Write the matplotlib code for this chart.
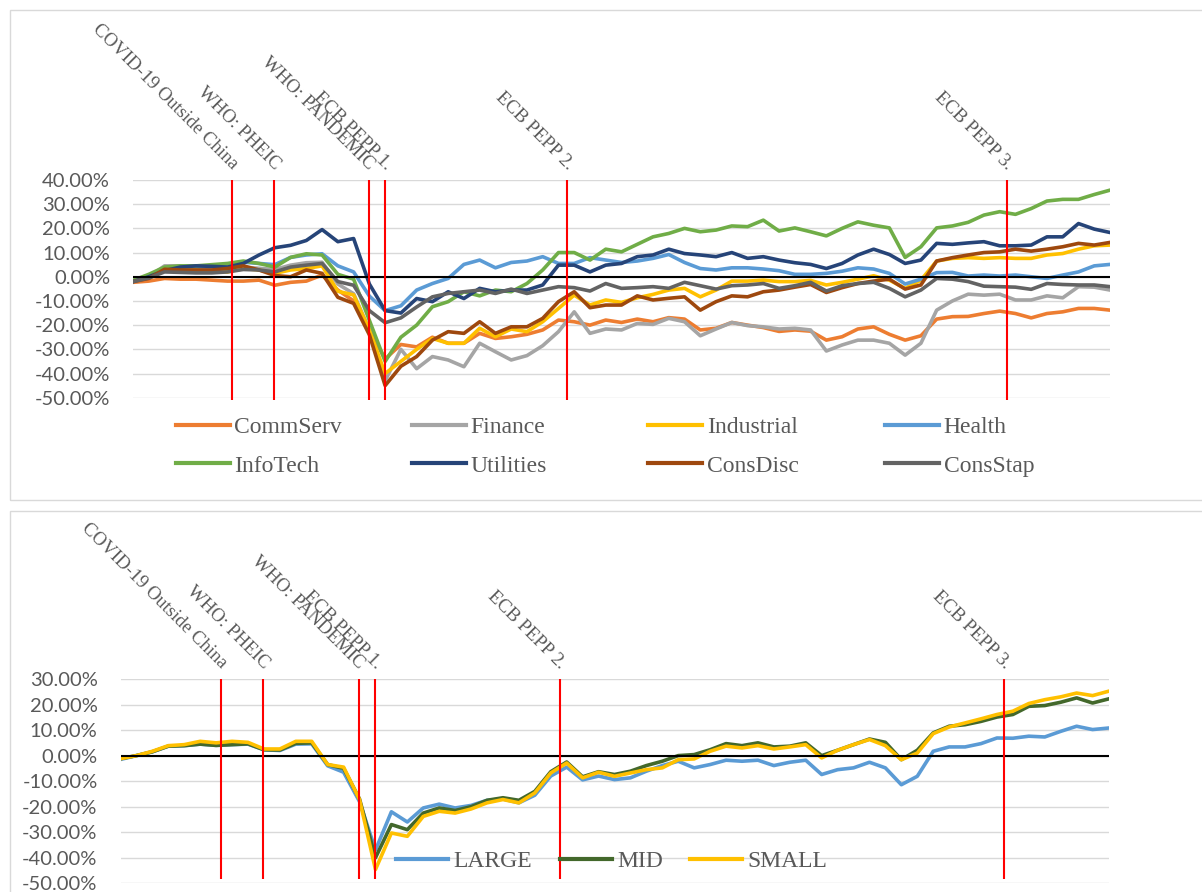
import matplotlib
matplotlib.use('Agg')
import matplotlib.pyplot as plt
from matplotlib.lines import Line2D
from matplotlib.patches import Rectangle
import numpy as np

# Eventos marcados com linhas vermelhas (posicao no eixo de observacoes)
event_names = ['COVID-19 Outside China', 'WHO: PHEIC', 'WHO: PANDEMIC',
               'ECB PEPP 1.', 'ECB PEPP 2.', 'ECB PEPP 3.']
event_pos = [6.3, 8.95, 14.95, 16.0, 27.55, 55.45]

# Retornos acumulados por setor (%), 63 observacoes
comm_serv = [-2.3, -1.8, -0.7, -1, -1, -1.4, -1.8, -1.8, -1.4, -3.5, -2.3, -1.8, 0.7, -5.5, -10, -22, -34, -28, -29,
             -25, -27.5, -27.5, -23.4, -25.5, -24.8, -23.8, -22, -17.9, -18.6, -20, -17.9, -18.9, -17.5, -18.6, -16.9,
             -17.5, -22, -21.3, -18.9, -20, -21, -22.6, -22, -22.5, -26.2, -24.8, -21.6, -20.7, -23.8, -26.2, -24.4,
             -17.5, -16.5, -16.4, -15.2, -14.2, -15.2, -17, -15.2, -14.5, -13.1, -13.1, -13.8]
finance = [-1.8, 0, 4.5, 4.5, 3.5, 3, 3, 4, 3.5, 3, 4.8, 5.8, 6, -3, -7, -22, -43, -30, -38,
           -33, -34.4, -37.2, -27.5, -31, -34.4, -32.6, -28.5, -22.7, -14.5, -23.4, -21.6, -22, -19.3, -19.7, -17.2,
           -18.6, -24.4, -21.6, -18.9, -20.2, -20.7, -21.6, -21.3, -22, -30.7, -28.2, -26.2, -26.2, -27.5, -32.4, -27.5,
           -13.8, -10, -7.2, -7.6, -7.2, -9.6, -9.6, -7.9, -8.7, -4.1, -4.3, -5.5]
industrial = [-1.8, 0, 2.8, 2.8, 2.8, 2, 2, 3.4, 2.8, 1.4, 2.8, 3.4, 4.5, -6, -7.5, -22, -40, -35, -30,
              -25.5, -27.5, -27.5, -21.3, -24.8, -21.6, -22.7, -18.6, -13.1, -7.6, -11.7, -9.6, -10.6, -8.7, -7.3, -5.5,
              -4.8, -8.3, -5.5, -1.8, -1.8, -1.4, -2, -2, -1.5, -3.4, -2.3, -1, 0.4, -1.4, -4.8, -1.4,
              6.5, 7.6, 7.9, 7.6, 7.9, 7.6, 7.6, 9, 9.6, 11.4, 12.8, 13.1]
health = [-2, 0, 2.5, 4, 4.3, 4, 5, 6, 5.5, 5, 8, 9, 9.5, 4.5, 2, -8, -14, -12, -5.5,
          -2.8, -0.7, 5.1, 6.9, 3.7, 5.9, 6.5, 8.3, 5.5, 5.5, 7.9, 6.9, 5.9, 6.5, 7.6, 9.2,
          5.9, 3.4, 2.8, 3.7, 3.7, 3.2, 2.5, 1, 1, 1.4, 2.3, 3.7, 3.2, 1.4, -3, -1,
          1.7, 1.8, 0.3, 0.7, 0.3, 0.7, 0, -0.7, 0.7, 2, 4.5, 5.1]
info_tech = [-1.5, 1, 4, 4.5, 4.5, 5, 5.5, 6.5, 5.5, 4, 8, 9.5, 9, 1, -1, -18, -35, -25, -20,
             -12.4, -10.3, -6.2, -7.9, -5.5, -6.2, -2.8, 2.8, 10, 10, 6.9, 11.4, 10.3, 13.4, 16.5, 17.9,
             20, 18.6, 19.3, 21, 20.7, 23.4, 18.9, 20.2, 18.6, 16.9, 20, 22.7, 21.3, 20.2, 8, 12.4,
             20.2, 21, 22.5, 25.5, 26.9, 25.8, 28.2, 31.3, 32, 32, 34, 35.8]
utilities = [-2, 0, 2.5, 4, 4.5, 4.3, 4, 5.5, 9, 12, 13, 15, 19.5, 14.5, 15.8, -3, -14, -15, -9,
             -10.3, -6.2, -9, -4.8, -6.2, -5.5, -5.5, -3.4, 4.8, 4.8, 2, 4.8, 5.5, 8.3, 9, 11.4,
             9.6, 9, 8.3, 10, 7.6, 8.3, 6.9, 5.8, 5.1, 3.4, 5.5, 9, 11.4, 9.2, 5.5, 6.9,
             13.8, 13.4, 14, 14.5, 12.8, 12.8, 13.1, 16.5, 16.5, 22, 19.7, 18.3]
cons_disc = [-2, -0.7, 3.1, 2.8, 2.8, 2.8, 3.4, 4.5, 2.8, 0.5, 0, 2.8, 1.4, -8.5, -11, -24, -45, -37, -33,
             -26.2, -22.7, -23.4, -18.6, -23.4, -20.7, -20.7, -17.2, -10.3, -6.2, -12.8, -11.7, -11.7, -7.9, -9.6, -8.9,
             -8.3, -13.8, -10.3, -7.9, -8.3, -6.2, -5.5, -4.3, -3.2, -6.5, -4.5, -2.8, -1.8, -1, -5.1, -3.4,
             6.5, 7.9, 9, 10, 10.3, 11.4, 10.6, 11.4, 12.4, 13.8, 13.1, 14.2]
cons_stap = [-2, -0.5, 2, 1.8, 1.6, 1.6, 2, 3, 2.8, 2, 4, 4.8, 5.5, -2, -3.5, -14, -19, -17, -12.5,
             -8.3, -6.9, -6.2, -5.5, -6.9, -5.1, -6.9, -5.5, -4.1, -4.5, -5.9, -2.8, -4.8, -4.5, -4.1, -4.8,
             -2.3, -3.7, -5.1, -3.7, -3.4, -2.8, -4.8, -3.7, -2.3, -5.9, -3.7, -2.8, -2.3, -4.8, -8.3, -5.5,
             -0.7, -1, -2, -3.9, -4.1, -4.3, -5.2, -2.8, -3.2, -3.4, -3.4, -4.1]

# Retornos acumulados por tamanho (%)
large = [-1.5, 0, 1.5, 3.7, 3.9, 4.5, 4, 4.3, 4.5, 2.3, 2, 4.5, 4.6, -4, -6.5, -18, -37, -22, -26,
         -20.5, -19, -20.5, -19.5, -17.5, -17, -18.5, -15.5, -8, -4.5, -9.5, -8, -9.4, -8.7, -6.1, -3.9,
         -2.2, -4.8, -3.5, -1.8, -2.2, -1.8, -3.9, -2.6, -1.8, -7.4, -5.5, -4.8, -2.6, -4.8, -11.4, -8.1,
         1.7, 3.4, 3.4, 4.7, 6.9, 6.8, 7.6, 7.3, 9.5, 11.5, 10.2, 10.8]
mid = [-1.2, 0, 1.5, 3.7, 3.9, 4.5, 4, 4.3, 4.6, 2.3, 2.2, 4.8, 5.0, -3.5, -5, -17, -40, -27, -29,
       -22.5, -20.5, -21.5, -20, -17.5, -16.5, -17.5, -14, -6.3, -2.5, -8.3, -6.3, -7.4, -6.1, -3.9, -2.2,
       0, 0.4, 2.3, 4.7, 3.9, 5, 3.4, 3.7, 5, 0, 2.1, 4.3, 6.5, 5.2, -1.6, 2.1,
       8.9, 11.5, 12.1, 13.4, 15.1, 16.1, 19.3, 19.6, 20.9, 22.6, 20.6, 22.2]
small = [-1.2, 0, 1.7, 3.9, 4.3, 5.6, 5, 5.6, 5.2, 2.6, 2.6, 5.6, 5.6, -3.5, -4.5, -17.2, -44.6, -30.3, -31.6,
         -23.8, -21.8, -22.5, -20.9, -18.5, -17.2, -18.5, -14.6, -6.8, -2.9, -8.7, -6.5, -8.1, -6.8, -5.5, -4.8,
         -1.6, -1.3, 1.7, 3.7, 3, 3.9, 2.6, 3.4, 4.3, -0.9, 2.1, 4.3, 6.3, 3.9, -1.6, 1,
         8.6, 11.2, 12.8, 14.4, 16.1, 17.4, 20.4, 21.9, 23, 24.5, 23.5, 25.2]

sector_names = ['CommServ', 'Finance', 'Industrial', 'Health',
                'InfoTech', 'Utilities', 'ConsDisc', 'ConsStap']
sector_series = [comm_serv, finance, industrial, health, info_tech, utilities, cons_disc, cons_stap]
sector_colors = ['#ED7D31', '#A5A5A5', '#FFC000', '#5B9BD5',
                 '#70AD47', '#264478', '#9E480E', '#636363']

size_names = ['LARGE', 'MID', 'SMALL']
size_series = [large, mid, small]
size_colors = ['#5B9BD5', '#43682B', '#FFC000']

top_ticks = [-50, -40, -30, -20, -10, 0, 10, 20, 30, 40]
bottom_ticks = [-50, -40, -30, -20, -10, 0, 10, 20, 30]

W, H = 1202, 892
GREY = '#595959'
SERIF = 'Liberation Serif'

fig = plt.figure(figsize=(W / 100, H / 100), dpi=100)

# Molduras das duas areas de grafico
fig.patches.append(Rectangle((10 / W, 1 - 500 / H), 1.2, 490 / H, transform=fig.transFigure,
                             fill=False, edgecolor='#D9D9D9', lw=1))
fig.patches.append(Rectangle((10 / W, -0.1), 1.2, 1 - 511 / H + 0.1, transform=fig.transFigure,
                             fill=False, edgecolor='#D9D9D9', lw=1))

ax1 = fig.add_axes([133 / W, 1 - 397.7 / H, 977 / W, 217.7 / H])
ax2 = fig.add_axes([120.5 / W, 1 - 883.3 / H, 988 / W, 204.3 / H])


def style_axis(ax, ticks, n_obs, line_bottom):
    ax.set_xlim(0, n_obs - 1)
    ax.set_ylim(ticks[0], ticks[-1])
    ax.set_yticks(ticks)
    ax.set_yticklabels([f'{v:.2f}%' for v in ticks], fontfamily='Lato', fontsize=14.5, color=GREY)
    ax.tick_params(axis='y', length=0, pad=16.5)
    ax.set_xticks([])
    for s in ax.spines.values():
        s.set_visible(False)
    ax.grid(axis='y', color='#D9D9D9', lw=1)
    ax.set_axisbelow(True)
    ax.axhline(0, color='black', lw=1.5, zorder=5)
    ax.vlines(event_pos, line_bottom, ticks[-1], colors='#FF0000', lw=1.5, zorder=6, clip_on=False)
    for name, x in zip(event_names, event_pos):
        ax.annotate(name, xy=(x, ticks[-1]), xytext=(-2, 5), textcoords='offset points',
                    rotation=-45, rotation_mode='anchor', ha='right', va='bottom',
                    fontfamily=SERIF, fontsize=13.6, color=GREY, annotation_clip=False)


def add_key(color, label, x_px, y_px, hl):
    handle = Line2D([], [], color=color, lw=3)
    fig.legend([handle], [label], loc='center left', bbox_to_anchor=(x_px / W, 1 - y_px / H),
               frameon=False, borderpad=0, borderaxespad=0, handlelength=hl, handletextpad=0.21,
               prop={'family': SERIF, 'size': 17}, labelcolor=GREY)


obs = np.arange(len(comm_serv))
for vals, col in zip(sector_series, sector_colors):
    ax1.plot(obs, vals, color=col, lw=2.6, zorder=3, solid_joinstyle='round')
style_axis(ax1, top_ticks, len(obs), -51)

obs2 = np.arange(len(large))
for vals, col in zip(size_series, size_colors):
    ax2.plot(obs2, vals, color=col, lw=2.6, zorder=3, solid_joinstyle='round')
style_axis(ax2, bottom_ticks, len(obs2), -48.5)

# Legendas (uma entrada por posicao, como no Excel)
key_x = [175.7, 412, 648, 885]
for i, (name, col) in enumerate(zip(sector_names, sector_colors)):
    add_key(col, name, key_x[i % 4], 427.3 if i < 4 else 466, 2.28)

for name, col, x in zip(size_names, size_colors, [396, 560, 690]):
    add_key(col, name, x, 861.7, 2.22)

plt.savefig('out.png', dpi=100)
